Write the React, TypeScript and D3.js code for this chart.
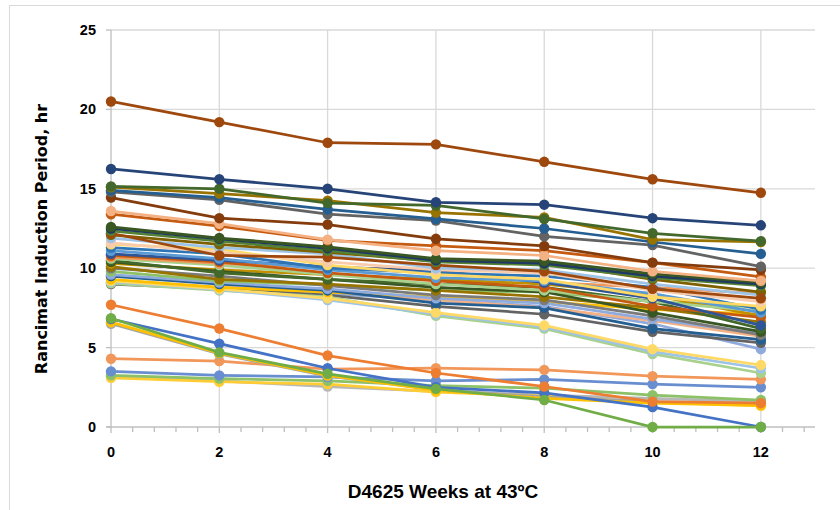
import React from "react";
import * as d3 from "d3";

const weeks = [0, 2, 4, 6, 8, 10, 12];
const xTicks = [0, 2, 4, 6, 8, 10, 12];
const yTicks = [0, 5, 10, 15, 20, 25];

const seriesColors = [
  "#9E480E", "#264478", "#43682B", "#997300", "#255E91", "#636363", "#843C0C", "#F4B183", "#C55A11",
  "#385723", "#203864", "#548235", "#9E480E", "#7F6000", "#9DC3E6", "#F8CBAD", "#FFD966", "#2E75B6",
  "#5B9BD5", "#2F5597", "#C55A11", "#F1975A", "#A9D18E", "#43682B", "#385723", "#BF9000", "#997300",
  "#7B7B7B", "#8CC168", "#8FAADC", "#255E91", "#FFC000", "#FFD966", "#9DC3E6", "#A9D18E", "#636363",
  "#F4B183", "#8FAADC",
  "#ED7D31", "#70AD47", "#4472C4", "#FFC000", "#A5A5A5", "#F1975A", "#698ED0", "#8CC168", "#FFCD33", "#B7B7B7",
];

const seriesValues = [
  [20.5, 19.2, 17.9, 17.8, 16.7, 15.6, 14.75],
  [16.25, 15.6, 15.0, 14.15, 14.0, 13.15, 12.7],
  [15.15, 15.0, 14.1, 13.95, 13.1, 12.2, 11.7],
  [15.1, 14.7, 14.25, 13.5, 13.2, 11.8, 11.65],
  [14.9, 14.45, 13.7, 13.1, 12.5, 11.65, 10.9],
  [14.8, 14.3, 13.4, 13.0, 12.0, 11.45, 10.1],
  [14.45, 13.15, 12.75, 11.85, 11.4, 10.35, 9.9],
  [13.6, 12.8, 11.8, 11.1, 10.8, 9.8, 9.2],
  [13.4, 12.65, 11.75, 11.4, 11.1, 10.35, 9.45],
  [12.6, 11.9, 11.35, 10.6, 10.45, 9.65, 9.1],
  [12.5, 11.85, 11.25, 10.5, 10.3, 9.5, 9.0],
  [12.35, 11.7, 11.1, 10.4, 10.2, 9.4, 8.9],
  [12.2, 10.8, 10.7, 10.2, 9.8, 8.7, 8.1],
  [12.1, 11.5, 11.0, 10.45, 10.35, 9.3, 8.5],
  [11.9, 11.3, 10.9, 10.0, 9.9, 9.0, 8.3],
  [11.6, 11.0, 10.4, 9.9, 9.7, 8.6, 7.9],
  [11.5, 11.2, 10.2, 9.6, 9.3, 8.2, 7.6],
  [11.3, 10.9, 10.0, 9.7, 9.5, 8.8, 7.4],
  [11.1, 10.6, 9.9, 9.4, 9.2, 8.4, 7.2],
  [10.9, 10.5, 10.1, 9.8, 9.1, 8.1, 6.4],
  [10.8, 10.4, 9.7, 9.2, 8.8, 7.6, 6.9],
  [10.7, 10.3, 10.05, 9.85, 9.1, 8.8, 8.4],
  [10.6, 10.2, 9.6, 9.0, 8.6, 7.9, 7.3],
  [10.5, 9.7, 9.3, 9.0, 8.8, 7.9, 6.2],
  [10.4, 9.8, 9.3, 8.8, 8.5, 7.2, 6.0],
  [10.3, 9.9, 9.6, 9.3, 9.0, 8.3, 7.0],
  [10.1, 9.3, 9.0, 8.6, 8.2, 7.5, 6.6],
  [10.0, 9.5, 8.9, 8.3, 8.0, 7.0, 5.8],
  [9.8, 9.2, 8.95, 8.6, 8.5, 7.9, 7.55],
  [9.6, 9.1, 8.7, 8.1, 7.8, 6.8, 5.9],
  [9.5, 9.0, 8.6, 7.8, 7.5, 6.2, 5.5],
  [9.3, 8.8, 8.5, 8.2, 7.9, 7.4, 7.1],
  [9.2, 8.7, 8.1, 7.2, 6.4, 4.9, 3.9],
  [9.15, 8.65, 8.0, 7.1, 6.3, 4.75, 3.7],
  [9.05, 8.6, 8.2, 7.0, 6.2, 4.6, 3.4],
  [9.0, 8.7, 8.3, 7.6, 7.1, 6.0, 5.3],
  [9.25, 8.8, 8.55, 8.0, 7.5, 6.7, 5.7],
  [9.1, 8.75, 8.4, 8.0, 7.6, 6.5, 4.9],
  [7.7, 6.2, 4.5, 3.4, 2.55, 1.6, 1.5],
  [6.85, 4.7, 3.35, 2.4, 1.7, 0, 0],
  [6.8, 5.25, 3.7, 2.5, 2.15, 1.25, 0],
  [6.6, 4.65, 3.25, 2.3, 1.8, 1.5, 1.35],
  [6.5, 4.6, 3.2, 2.35, 1.9, 1.6, 1.45],
  [4.3, 4.15, 3.65, 3.7, 3.6, 3.2, 3.0],
  [3.5, 3.25, 3.15, 2.9, 3.0, 2.7, 2.5],
  [3.25, 3.05, 2.9, 2.6, 2.45, 2.0, 1.7],
  [3.1, 2.85, 2.7, 2.2, 1.95, 1.55, 1.35],
  [3.2, 2.9, 2.55, 2.25, 2.0, 1.8, 1.6],
];

const xTitle = "D4625 Weeks at 43ºC";
const yTitle = "Rancimat Induction Period, hr";

export default function App() {
  const W = 840, H = 510;
  const x = d3.scaleLinear().domain([0, 13]).range([111, 815]);
  const y = d3.scaleLinear().domain([0, 25]).range([427, 30]);
  const line = d3.line<number>().x((_, i) => x(weeks[i])).y((v) => y(v));
  const minor = d3.range(0, 13.01, 0.4).filter((t) => Math.abs(t / 2 - Math.round(t / 2)) > 0.01);
  const grid = "#d9d9d9";
  const axisCol = "#bfbfbf";
  const tickFont = "'Liberation Sans', Arial, sans-serif";

  const order = d3.range(seriesValues.length).reverse();

  return (
    <svg width={W} height={H} style={{ position: "absolute", left: 0, top: 0, background: "#fff" }}>
      <rect x={9.5} y={5.5} width={900} height={600} fill="#fff" stroke={grid} />
      {yTicks.filter((t) => t > 0).map((t) => (
        <line key={"hg" + t} x1={x(0)} x2={815} y1={y(t)} y2={y(t)} stroke={grid} strokeWidth={1.3} />
      ))}
      {xTicks.filter((t) => t > 0).map((t) => (
        <line key={"vg" + t} x1={x(t)} x2={x(t)} y1={y(25)} y2={y(0)} stroke={grid} strokeWidth={1.3} />
      ))}
      <line x1={x(0)} x2={x(0)} y1={y(25)} y2={y(0)} stroke={axisCol} strokeWidth={1.3} />
      {yTicks.map((t) => (
        <line key={"yt" + t} x1={x(0) - 5} x2={x(0)} y1={y(t)} y2={y(t)} stroke={axisCol} strokeWidth={1.3} />
      ))}
      <line x1={x(0) - 5} x2={815} y1={y(0)} y2={y(0)} stroke={axisCol} strokeWidth={1.3} />
      {xTicks.map((t) => (
        <line key={"xt" + t} x1={x(t)} x2={x(t)} y1={y(0)} y2={y(0) + 6} stroke={axisCol} strokeWidth={1.3} />
      ))}
      {minor.map((t) => (
        <line key={"mt" + t} x1={x(t)} x2={x(t)} y1={y(0)} y2={y(0) + 5} stroke={axisCol} strokeWidth={1.3} />
      ))}
      {order.map((i) => (
        <g key={"s" + i}>
          <path d={line(seriesValues[i]) || ""} fill="none" stroke={seriesColors[i]} strokeWidth={2.75} />
          {seriesValues[i].map((v, j) => (
            <circle key={j} cx={x(weeks[j])} cy={y(v)} r={5.2} fill={seriesColors[i]} />
          ))}
        </g>
      ))}
      {yTicks.map((t) => (
        <text key={"yl" + t} x={96} y={y(t)} dy="0.35em" textAnchor="end" fontFamily={tickFont}
          fontWeight="bold" fontSize={14.5} fill="#000">{t}</text>
      ))}
      {xTicks.map((t) => (
        <text key={"xl" + t} x={x(t)} y={452} dy="0.35em" textAnchor="middle" fontFamily={tickFont}
          fontWeight="bold" fontSize={14.5} fill="#000">{t}</text>
      ))}
      <text x={443} y={491} dy="0.35em" textAnchor="middle" fontFamily="'Liberation Sans Narrow', 'Liberation Sans', sans-serif"
        fontWeight="bold" fontSize={19} fill="#000">{xTitle}</text>
      <text transform={`translate(41,239) rotate(-90)`} dy="0.35em" textAnchor="middle"
        fontFamily="'DejaVu Sans', sans-serif" fontWeight="bold" fontSize={16} fill="#000">{yTitle}</text>
    </svg>
  );
}
